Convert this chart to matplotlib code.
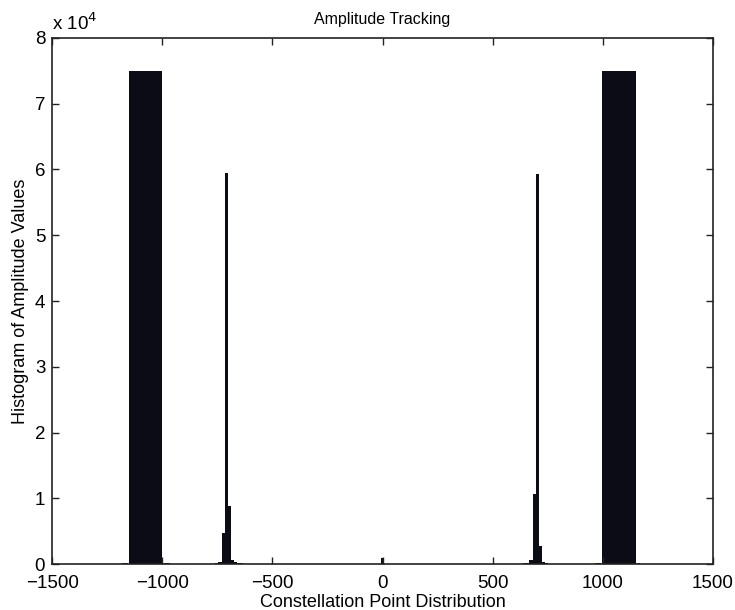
import matplotlib
matplotlib.use("Agg")
import matplotlib.pyplot as plt
from matplotlib.ticker import FuncFormatter

# wide blocks of the histogram (left edge, right edge, count)
block_lo = [-1150, 995]
block_hi = [-1000, 1150]
block_count = [75000, 75000]

# narrow histogram bins (centre, count)
bin_width = 14
bin_centres = [-1192, -1178, -1164, -986, -972, -958, -944,
               -766, -752, -738, -724, -710, -696, -682, -668, -654, -640, -626,
               0,
               632, 646, 660, 674, 688, 702, 716, 730, 744, 758,
               958, 972, 986, 1164, 1178]
bin_counts = [80, 120, 160, 200, 150, 100, 80,
              80, 150, 400, 4700, 59500, 8900, 700, 350, 200, 120, 80,
              1000,
              80, 150, 250, 600, 10600, 59300, 2800, 350, 150, 80,
              90, 140, 180, 150, 90]

xticks = [-1500, -1000, -500, 0, 500, 1000, 1500]
yticks = [0, 10000, 20000, 30000, 40000, 50000, 60000, 70000, 80000]

plt.rcParams["font.family"] = ["Liberation Sans", "DejaVu Sans"]

fig = plt.figure(figsize=(7.35, 6.1), dpi=100)
ax = fig.add_axes([0.071, 0.075, 0.899, 0.863])

bar_color = "#0b0c16"
widths = [h - l for l, h in zip(block_lo, block_hi)]
ax.bar(block_lo, block_count, width=widths, align="edge", color=bar_color, linewidth=0)
ax.bar(bin_centres, bin_counts, width=bin_width, color=bar_color, linewidth=0)

ax.set_xlim(-1500, 1500)
ax.set_ylim(0, 80000)
ax.set_xticks(xticks)
ax.set_yticks(yticks)
ax.yaxis.set_major_formatter(FuncFormatter(lambda v, p: f"{v / 1e4:g}"))
ax.tick_params(direction="in", top=True, right=True, labelsize=13.5,
               length=5, width=1, color="#222222")
ax.tick_params(axis="x", pad=8)
ax.tick_params(axis="y", pad=5)
for s in ax.spines.values():
    s.set_color("#222222")
    s.set_linewidth(1.2)

ax.text(0.0, 1.008, r"x 10$^4$", transform=ax.transAxes, fontsize=13.5,
        ha="left", va="bottom")
ax.set_title("Amplitude Tracking", fontsize=11.5, pad=10)
ax.set_xlabel("Constellation Point Distribution", fontsize=13, labelpad=1)
ax.set_ylabel("Histogram of Amplitude Values", fontsize=13, labelpad=4)

fig.savefig("out.png", dpi=100)
